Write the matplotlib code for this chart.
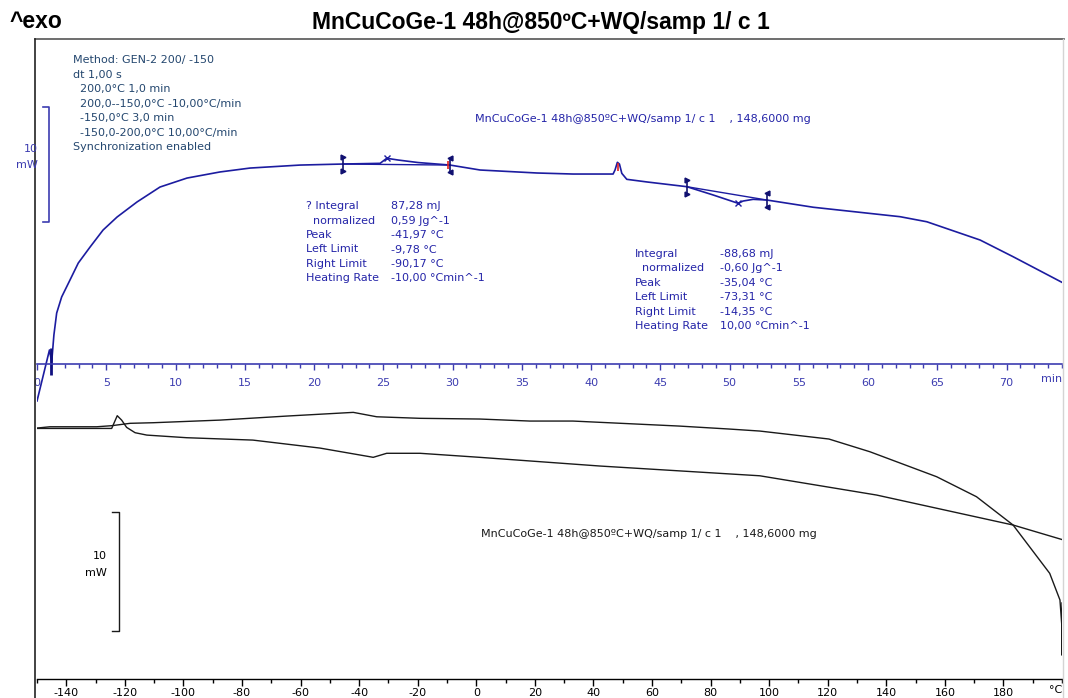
import matplotlib
matplotlib.use('Agg')
import matplotlib.pyplot as plt
from matplotlib.lines import Line2D
from matplotlib.ticker import MultipleLocator, FixedLocator
from matplotlib.transforms import blended_transform_factory

# ---- top panel: heat flow (mW) against time (min) ----
time_min = [0.0, 0.90, 1.06, 1.22, 1.42, 1.78, 2.38, 2.98, 3.83, 4.77, 5.78, 7.22,
            8.88, 10.83, 13.21, 15.38, 18.99, 22.09, 24.77, 25.25, 26.06, 27.51,
            29.82, 31.99, 36.10, 38.70, 41.59, 41.73, 41.90, 42.05, 42.22, 42.58,
            44.04, 46.91, 48.81, 50.63, 50.97, 51.70, 52.69, 56.05, 62.31, 64.24,
            68.09, 70.47, 74.0]
flow_time = [-3.22, 1.22, 0.17, 2.52, 4.43, 5.83, 7.30, 8.78, 10.17, 11.65, 12.78, 14.09,
             15.39, 16.17, 16.70, 17.04, 17.30, 17.39, 17.45, 17.89, 17.74, 17.52,
             17.30, 16.87, 16.61, 16.52, 16.52, 16.87, 17.54, 17.39, 16.58, 16.06,
             15.83, 15.42, 14.70, 13.97, 14.17, 14.32, 14.26, 13.63, 12.81, 12.37,
             10.78, 9.33, 7.1]

# integration limits (left, right) and peaks
cool_lim_t = [22.09, 29.82]
cool_lim_mw = [17.39, 17.30]
heat_lim_t = [46.91, 52.69]
heat_lim_mw = [15.42, 14.26]
peak_t = [25.25, 50.63]
peak_mw = [17.89, 13.97]
red_t = [29.65, 41.97]
red_mw = [17.30, 17.1]

# ---- bottom panel: heat flow (mW) against temperature (degC) ----
heat_T = [-150, -124.5, -122.6, -121.1, -119.4, -116.5, -112.5, -98.9, -76.3, -53.4,
          -36.3, -35.2, -30.6, -19.2, 1.2, 42.2, 96.8, 136.7, 183.3, 200]
heat_mw = [21.06, 21.06, 22.13, 21.76, 21.15, 20.70, 20.50, 20.28, 20.08, 19.41,
           18.68, 18.63, 18.97, 18.97, 18.63, 17.9, 17.08, 15.46, 12.94, 11.72]
cool_T = [200, 200, 200, 199.3, 195.8, 183.3, 170.8, 157.2, 134.4, 120.4, 96.8, 86.3,
          69.2, 47.7, 33.0, 18.3, 1.2, -19.2, -34.0, -42.0, -64.7, -87.5, -110.3,
          -118.2, -124.5, -129.6, -145.6, -150]
cool_mw = [6.39, 2.02, 4.29, 6.64, 8.88, 12.94, 15.32, 17.0, 19.1, 20.17, 20.84, 21.01,
           21.26, 21.51, 21.68, 21.68, 21.85, 21.91, 22.04, 22.41, 22.10, 21.76, 21.54,
           21.49, 21.29, 21.20, 21.20, 21.09]

method_lines = ["Method: GEN-2 200/ -150", "dt 1,00 s", "  200,0°C 1,0 min",
                "  200,0--150,0°C -10,00°C/min", "  -150,0°C 3,0 min",
                "  -150,0-200,0°C 10,00°C/min", "Synchronization enabled"]
res_labels1 = ["? Integral", "  normalized", "Peak", "Left Limit", "Right Limit", "Heating Rate"]
res_values1 = ["87,28 mJ", "0,59 Jg^-1", "-41,97 °C", "-9,78 °C", "-90,17 °C", "-10,00 °Cmin^-1"]
res_labels2 = ["Integral", "  normalized", "Peak", "Left Limit", "Right Limit", "Heating Rate"]
res_values2 = ["-88,68 mJ", "-0,60 Jg^-1", "-35,04 °C", "-73,31 °C", "-14,35 °C", "10,00 °Cmin^-1"]
sample = "MnCuCoGe-1 48h@850ºC+WQ/samp 1/ c 1    , 148,6000 mg"

W, H = 1068, 698
def fx(x): return x / W
def fy(y): return 1 - y / H

BLUE = '#2424a8'
AXBLUE = '#3c3cb0'
plt.rcParams['font.family'] = ['DejaVu Sans']
plt.rcParams['axes.unicode_minus'] = False

fig = plt.figure(figsize=(W / 100, H / 100), dpi=100)

# ----- top panel -----
ax = fig.add_axes([fx(37), fy(420), 1025 / W, 382 / H])
ax.patch.set_alpha(0)
ax.set_xlim(0, 74)
ax.set_ylim(-4.87, 28.35)
ax.plot(time_min, flow_time, color='#1c1ca0', lw=1.2)
ax.plot(cool_lim_t, cool_lim_mw, color='#1c1ca0', lw=1.0)
ax.plot(heat_lim_t, heat_lim_mw, color='#1c1ca0', lw=1.0)
ax.plot(peak_t, peak_mw, 'x', color='#1c1ca0', ms=5, mew=1)
ax.vlines([1.03], -0.96, 1.4, color='#101080', lw=2)
for lt, lm in zip(cool_lim_t + heat_lim_t, cool_lim_mw + heat_lim_mw):
    ax.vlines(lt, lm - 0.65, lm + 0.65, color='#101070', lw=1.2)
for lt, lm, mk in zip(cool_lim_t + heat_lim_t, cool_lim_mw + heat_lim_mw, ['>', '<', '>', '<']):
    ax.plot([lt, lt], [lm - 0.6, lm + 0.6], mk, color='#101070', ms=3.5)
ax.vlines(red_t, [m - 0.35 for m in red_mw], [m + 0.35 for m in red_mw], color='#e02020', lw=1.2)

for s in ['top', 'left', 'right']:
    ax.spines[s].set_visible(False)
ax.spines['bottom'].set_position(('data', 0))
ax.spines['bottom'].set_color(AXBLUE)
ax.spines['bottom'].set_linewidth(1.2)
ax.set_yticks([])
ax.xaxis.set_major_locator(FixedLocator(list(range(0, 71, 5))))
ax.xaxis.set_minor_locator(MultipleLocator(1))
ax.tick_params(axis='x', which='major', length=4, width=1, color=AXBLUE, labelcolor=AXBLUE,
               labelsize=8, pad=6)
ax.tick_params(axis='x', which='minor', length=3, width=1, color=AXBLUE)
ax.text(74, -0.85, 'min', ha='right', va='top', color=AXBLUE, fontsize=8)

# scale bar 10 mW (top)
tb = blended_transform_factory(fig.transFigure, ax.transData)
ax.plot([fx(43.3), fx(49.3), fx(49.3), fx(43.3)], [22.32, 22.32, 12.32, 12.32],
        color=AXBLUE, lw=1.2, transform=tb, clip_on=False)
fig.text(fx(38), fy(149), '10', ha='right', va='center', color=AXBLUE, fontsize=8)
fig.text(fx(38), fy(165.5), 'mW', ha='right', va='center', color=AXBLUE, fontsize=8)

# ----- bottom panel -----
bx = fig.add_axes([fx(37), 0, 1025 / W, 298 / H])
bx.patch.set_alpha(0)
bx.set_xlim(-150, 200)
bx.set_ylim(-1.6, 23.45)
bx.plot(heat_T, heat_mw, color='#1a1a1a', lw=1.0)
bx.plot(cool_T, cool_mw, color='#1a1a1a', lw=1.0)
for s in ['top', 'left', 'right']:
    bx.spines[s].set_visible(False)
bx.spines['bottom'].set_position(('data', 0))
bx.spines['bottom'].set_linewidth(1.0)
bx.set_yticks([])
bx.xaxis.set_major_locator(FixedLocator(list(range(-140, 181, 20))))
bx.xaxis.set_minor_locator(MultipleLocator(10))
bx.tick_params(axis='x', which='major', length=5, width=1, labelsize=8, pad=1.5)
bx.tick_params(axis='x', which='minor', length=3, width=1)
bx.text(200, -0.5, '°C', ha='right', va='top', fontsize=8)

bb = blended_transform_factory(fig.transFigure, bx.transData)
bx.plot([fx(112), fx(118.8), fx(118.8), fx(112)], [14.06, 14.06, 4.06, 4.06],
        color='#1a1a1a', lw=1.0, transform=bb, clip_on=False)
fig.text(fx(106.5), fy(556), '10', ha='right', va='center', fontsize=8)
fig.text(fx(106.5), fy(573), 'mW', ha='right', va='center', fontsize=8)

# ----- frame, titles, annotations -----
fig.add_artist(Line2D([fx(35), fx(1064)], [fy(39), fy(39)], color='#555555', lw=1.2))
fig.add_artist(Line2D([fx(35), fx(35)], [fy(39), 0], color='#222222', lw=1.2))
fig.add_artist(Line2D([fx(1063), fx(1063)], [fy(39), 0], color='#d4d4d4', lw=1.0))

fig.text(fx(10), fy(22), '^exo', ha='left', va='center', fontsize=16.5,
         family='Liberation Sans', weight='bold')
fig.text(fx(541), fy(22), 'MnCuCoGe-1 48h@850ºC+WQ/samp 1/ c 1', ha='center', va='center',
         fontsize=16.5, family='Liberation Sans', weight='bold')

for i, line in enumerate(method_lines):
    fig.text(fx(73), fy(60 + 14.55 * i), line, ha='left', va='center', fontsize=8,
             color='#24476f')

fig.text(fx(475), fy(119), sample, ha='left', va='center', fontsize=8, color=BLUE)
fig.text(fx(481), fy(534), sample, ha='left', va='center', fontsize=8, color='#1a1a1a')

for i, (lab, val) in enumerate(zip(res_labels1, res_values1)):
    fig.text(fx(306), fy(206 + 14.5 * i), lab, ha='left', va='center', fontsize=8, color=BLUE)
    fig.text(fx(391), fy(206 + 14.5 * i), val, ha='left', va='center', fontsize=8, color=BLUE)
for i, (lab, val) in enumerate(zip(res_labels2, res_values2)):
    fig.text(fx(635), fy(254 + 14.4 * i), lab, ha='left', va='center', fontsize=8, color=BLUE)
    fig.text(fx(720), fy(254 + 14.4 * i), val, ha='left', va='center', fontsize=8, color=BLUE)

fig.savefig('out.png', dpi=100)
